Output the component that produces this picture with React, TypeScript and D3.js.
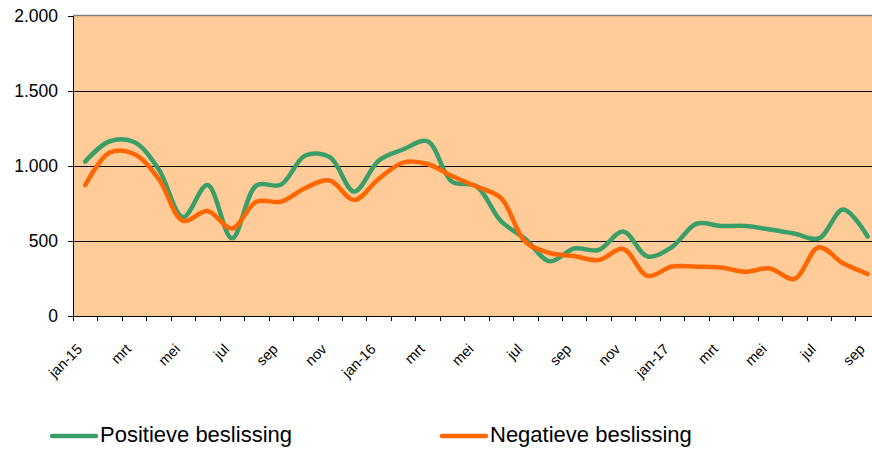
import React, { useRef, useEffect } from 'react';
import * as d3 from 'd3';

// monthly values, jan-15 .. sep-17
const positief = [1030, 1165, 1160, 980, 660, 873, 518, 870, 875, 1070, 1060, 830, 1035, 1110, 1165, 895, 865, 633, 513, 365, 450, 440, 563, 397, 460, 615, 600, 600, 577, 550, 517, 710, 530];
const negatief = [873, 1090, 1080, 915, 635, 700, 583, 762, 762, 853, 903, 773, 913, 1023, 1013, 933, 863, 787, 495, 420, 400, 373, 447, 267, 330, 329, 323, 295, 317, 247, 458, 351, 280];
const monthLabels = ['jan-15', 'mrt', 'mei', 'jul', 'sep', 'nov', 'jan-16', 'mrt', 'mei', 'jul', 'sep', 'nov', 'jan-17', 'mrt', 'mei', 'jul', 'sep'];
const yTicks = [0, 500, 1000, 1500, 2000];
const seriesNames = ['Positieve beslissing', 'Negatieve beslissing'];
const colors = ['#3A9E68', '#FF6600'];

const W = 872;
const H = 452;

const App = () => {
  const svgRef = useRef<SVGSVGElement>(null);

  useEffect(() => {
    const svg = d3.select(svgRef.current);
    svg.selectAll('*').remove();

    const left = 73;
    const top = 16;
    const bottom = 316;
    const n = positief.length;
    const step = 24.45;

    const x = d3.scaleLinear().domain([0, n]).range([left, left + n * step]);
    const y = d3.scaleLinear().domain([0, 2000]).range([bottom, top]);
    const fmt = d3.formatLocale({ decimal: ',', thousands: '.', grouping: [3], currency: ['', ''] }).format(',');

    // plot background
    svg
      .append('rect')
      .attr('x', x(0))
      .attr('y', y(2000))
      .attr('width', x(n) - x(0))
      .attr('height', y(0) - y(2000))
      .attr('fill', '#FFCC99');

    // gridlines
    svg
      .append('g')
      .selectAll('line')
      .data(yTicks.filter(d => d > 0 && d < 2000))
      .join('line')
      .attr('x1', x(0))
      .attr('x2', x(n))
      .attr('y1', d => Math.round(y(d)) + 0.5)
      .attr('y2', d => Math.round(y(d)) + 0.5)
      .attr('stroke', '#000')
      .attr('stroke-width', 1);

    svg
      .append('line')
      .attr('x1', x(0))
      .attr('x2', x(n))
      .attr('y1', y(2000) - 0.5)
      .attr('y2', y(2000) - 0.5)
      .attr('stroke', '#808080')
      .attr('stroke-width', 1.5);

    // y axis
    svg
      .append('line')
      .attr('x1', x(0) + 0.5)
      .attr('x2', x(0) + 0.5)
      .attr('y1', y(2000))
      .attr('y2', y(0) + 5)
      .attr('stroke', '#000');

    const yg = svg.append('g').selectAll('g').data(yTicks).join('g');
    yg.append('line')
      .attr('x1', x(0) - 5)
      .attr('x2', x(0))
      .attr('y1', d => Math.round(y(d)) + 0.5)
      .attr('y2', d => Math.round(y(d)) + 0.5)
      .attr('stroke', '#000');
    yg.append('text')
      .attr('x', 58)
      .attr('y', d => y(d) + 6)
      .attr('text-anchor', 'end')
      .attr('font-family', 'Liberation Sans, Arial, sans-serif')
      .attr('font-size', 17.5)
      .attr('fill', '#000')
      .text(d => fmt(d));

    // x axis
    svg
      .append('line')
      .attr('x1', x(0))
      .attr('x2', x(n))
      .attr('y1', y(0) + 0.5)
      .attr('y2', y(0) + 0.5)
      .attr('stroke', '#000');

    svg
      .append('g')
      .selectAll('line')
      .data(d3.range(n + 1))
      .join('line')
      .attr('x1', d => Math.round(x(d)) + 0.5)
      .attr('x2', d => Math.round(x(d)) + 0.5)
      .attr('y1', y(0))
      .attr('y2', y(0) + 5)
      .attr('stroke', '#000');

    svg
      .append('g')
      .selectAll('text')
      .data(monthLabels)
      .join('text')
      .attr('transform', (d, i) => `translate(${x(i * 2 + 0.5) - 2},${350}) rotate(-45)`)
      .attr('text-anchor', 'end')
      .attr('font-family', 'Liberation Sans, Arial, sans-serif')
      .attr('font-size', 14.5)
      .attr('fill', '#000')
      .text(d => d);

    // lines
    const line = d3
      .line<number>()
      .x((d, i) => x(i + 0.5))
      .y(d => y(d))
      .curve(d3.curveCatmullRom.alpha(0.5));

    [positief, negatief].forEach((data, k) => {
      svg
        .append('path')
        .datum(data)
        .attr('d', line)
        .attr('fill', 'none')
        .attr('stroke', colors[k])
        .attr('stroke-width', 4.5)
        .attr('stroke-linejoin', 'round')
        .attr('stroke-linecap', 'round');
    });

    // legend
    const legendX = [52, 442];
    const lg = svg.append('g').selectAll('g').data(seriesNames).join('g');
    lg.append('line')
      .attr('x1', (d, i) => legendX[i])
      .attr('x2', (d, i) => legendX[i] + 44)
      .attr('y1', 436)
      .attr('y2', 436)
      .attr('stroke', (d, i) => colors[i])
      .attr('stroke-width', 4.5)
      .attr('stroke-linecap', 'round');
    lg.append('text')
      .attr('x', (d, i) => legendX[i] + 48)
      .attr('y', 442)
      .attr('font-family', 'Liberation Sans, Arial, sans-serif')
      .attr('font-size', 22)
      .attr('fill', '#000')
      .text(d => d);
  }, []);

  return (
    <svg
      ref={svgRef}
      width={W}
      height={H}
      style={{ position: 'absolute', left: 0, top: 0, background: '#fff' }}
    />
  );
};

export default App;
